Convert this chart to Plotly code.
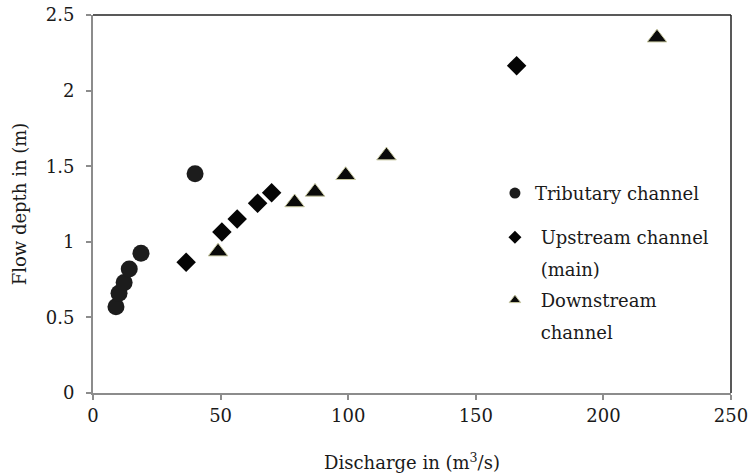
import plotly.graph_objects as go

# Data
trib_q = [9.0, 10.2, 12.2, 14.2, 18.8, 40.0]
trib_h = [0.57, 0.66, 0.73, 0.82, 0.925, 1.45]

up_q = [36.5, 50.5, 56.5, 64.5, 70.0, 166.0]
up_h = [0.865, 1.065, 1.15, 1.255, 1.325, 2.165]

down_q = [49.0, 79.0, 87.0, 99.0, 115.0, 221.0]
down_h = [0.935, 1.26, 1.33, 1.44, 1.57, 2.35]

legend_lines = ["Tributary channel", " Upstream channel", " (main)", " Downstream", " channel"]

FONT = "DejaVu Serif"
TXT = "#1a1a1a"
CLEAR = "rgba(0,0,0,0)"

fig = go.Figure()
fig.add_trace(go.Scatter(x=trib_q, y=trib_h, mode="markers", showlegend=False,
                         marker=dict(symbol="circle", size=17, color="#1c1c1c")))
fig.add_trace(go.Scatter(x=up_q, y=up_h, mode="markers", showlegend=False,
                         marker=dict(symbol="diamond", size=15, color="#050505")))
fig.add_trace(go.Scatter(x=down_q, y=down_h, mode="markers", showlegend=False,
                         marker=dict(symbol="triangle-up", size=17, color="#0a0a0a",
                                     line=dict(color="#c8c8a0", width=1))))

# legend-only entries with small markers
fig.add_trace(go.Scatter(x=[None], y=[None], mode="markers", name=legend_lines[0],
                         legend="legend", legendgroup="g0",
                         marker=dict(symbol="circle", size=11, color="#1c1c1c")))
fig.add_trace(go.Scatter(x=[None], y=[None], mode="markers", name=legend_lines[1],
                         legend="legend2", legendgroup="g1",
                         marker=dict(symbol="diamond", size=10, color="#050505")))
fig.add_trace(go.Scatter(x=[None], y=[None], mode="markers", name=legend_lines[2],
                         legend="legend2", legendgroup="g2",
                         marker=dict(symbol="diamond", size=10, color=CLEAR)))
fig.add_trace(go.Scatter(x=[None], y=[None], mode="markers", name=legend_lines[3],
                         legend="legend2", legendgroup="g3",
                         marker=dict(symbol="triangle-up", size=10, color="#0a0a0a",
                                     line=dict(color="#c8c8a0", width=1))))
fig.add_trace(go.Scatter(x=[None], y=[None], mode="markers", name=legend_lines[4],
                         legend="legend2", legendgroup="g4",
                         marker=dict(symbol="triangle-up", size=10, color=CLEAR)))

leg_common = dict(xanchor="left", yanchor="top", bgcolor=CLEAR, itemwidth=30,
                  font=dict(family=FONT, size=18, color=TXT))

fig.update_layout(
    width=752, height=476,
    margin=dict(l=93, r=21, t=15, b=83, autoexpand=False),
    paper_bgcolor="white", plot_bgcolor="white",
    font=dict(family=FONT, size=18, color=TXT),
    legend=dict(x=0.63, y=0.577, **leg_common),
    legend2=dict(x=0.63, y=0.46, tracegroupgap=5, **leg_common),
    xaxis=dict(range=[0, 250], tick0=0, dtick=50, showgrid=False, zeroline=False,
               showline=True, linecolor="#8c8c8c", linewidth=2,
               ticks="outside", ticklen=5, tickcolor="#8c8c8c", tickwidth=2,
               tickfont=dict(family=FONT, size=18, color=TXT),
               title=dict(text="Discharge in (m<sup>3</sup>/s)", standoff=32,
                          font=dict(family=FONT, size=18, color=TXT))),
    yaxis=dict(range=[0, 2.5], tick0=0, dtick=0.5, showgrid=False, zeroline=False,
               showline=True, linecolor="#8c8c8c", linewidth=2,
               ticks="outside", ticklen=5, tickcolor="#8c8c8c", tickwidth=2,
               ticklabelstandoff=8,
               tickfont=dict(family=FONT, size=18, color=TXT),
               title=dict(text="Flow depth in (m)", standoff=14,
                          font=dict(family=FONT, size=18, color=TXT))),
)

# top and right frame lines
fig.add_shape(type="line", xref="paper", yref="paper", x0=0, x1=1, y0=1, y1=1,
              line=dict(color="#222", width=1.5))
fig.add_shape(type="line", xref="paper", yref="paper", x0=1, x1=1, y0=0, y1=1,
              line=dict(color="#222", width=1.5))

fig.write_html("out.html")
